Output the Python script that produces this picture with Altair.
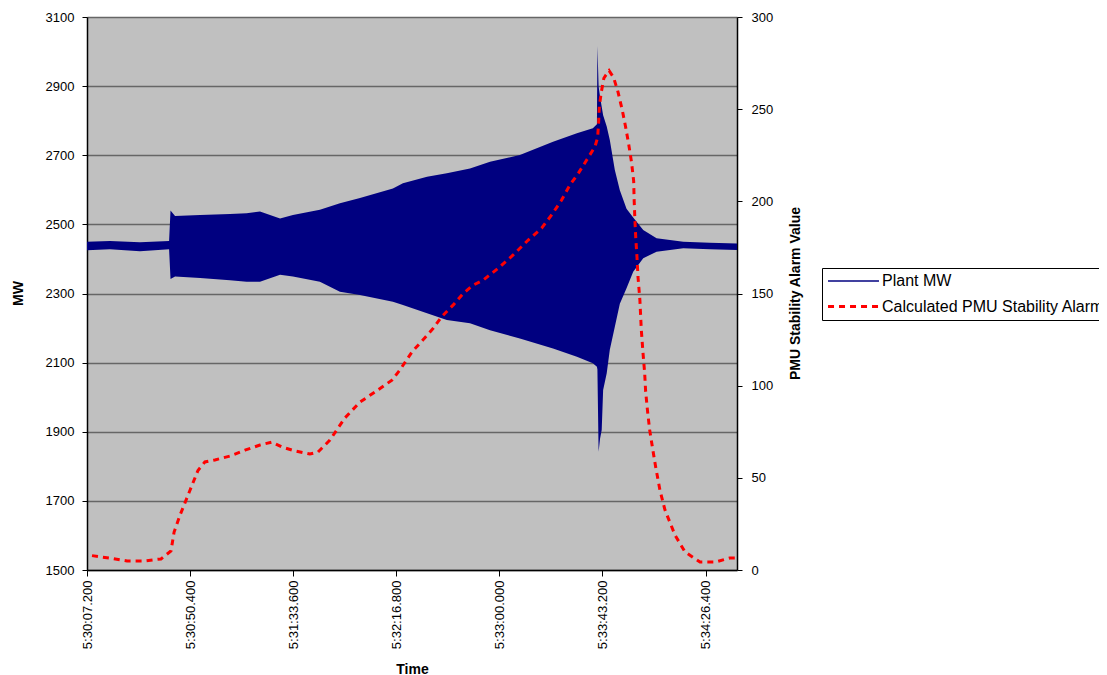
import altair as alt
import pandas as pd

# ---- axis labels ----
tick_secs = [0, 43.2, 86.4, 129.6, 172.8, 216.0, 259.2]
tick_labels = ["5:30:07.200", "5:30:50.400", "5:31:33.600", "5:32:16.800",
               "5:33:00.000", "5:33:43.200", "5:34:26.400"]
mw_ticks = [1500, 1700, 1900, 2100, 2300, 2500, 2700, 2900, 3100]
alarm_ticks = [0, 50, 100, 150, 200, 250, 300]

series_names = ["Plant MW", "Calculated PMU Stability Alarm Value"]

# ---- Plant MW (oscillation envelope, seconds after 5:30:07.2) ----
mw_t = [0.0, 9.6, 22.2, 34.4, 35.0, 36.9, 47.4, 59.9, 66.9, 72.5, 80.9, 86.3,
        97.6, 106.0, 114.4, 128.2, 132.4, 142.5, 150.8, 160.5, 168.9, 181.4,
        195.3, 205.3, 212.0, 213.7, 213.9, 214.4, 215.0, 215.7, 216.3, 217.8,
        219.1, 221.2, 223.3, 226.1, 228.9, 233.1, 238.7, 249.9, 261.0, 272.4]
mw_hi = [2450, 2452, 2448, 2452, 2540, 2524, 2527, 2530, 2532, 2537, 2517, 2527,
         2542, 2561, 2576, 2604, 2619, 2638, 2648, 2662, 2681, 2701,
         2739, 2764, 2778, 2790, 3016, 2900, 2869, 2840, 2816, 2783,
         2744, 2657, 2599, 2545, 2520, 2484, 2460, 2450, 2447, 2445]
mw_lo = [2425, 2428, 2422, 2428, 2342, 2349, 2345, 2338, 2334, 2334, 2354, 2349,
         2334, 2305, 2296, 2276, 2267, 2243, 2223, 2214, 2194, 2170,
         2141, 2117, 2098, 2088, 2080, 1842, 1880, 1905, 2021, 2069,
         2137, 2204, 2270, 2315, 2363, 2402, 2421, 2431, 2428, 2426]

# ---- Calculated PMU Stability Alarm Value ----
al_t = [2.1, 9.2, 16.8, 23.9, 31.0, 35.2, 36.5, 39.0, 43.2, 46.5, 49.4, 53.6,
        59.9, 66.2, 72.5, 77.5, 81.7, 87.2, 93.4, 96.8, 101.8, 108.1, 114.4,
        120.7, 127.8, 131.1, 136.2, 141.6, 145.1, 148.6, 153.5, 157.7, 161.9,
        166.1, 172.3, 178.6, 184.9, 190.5, 194.7, 198.9, 202.4, 205.9, 209.4,
        212.9, 214.0, 214.4, 214.7, 215.5, 216.6, 217.5, 218.8, 220.7, 222.5,
        224.3, 225.7, 227.0, 228.2, 229.1, 229.3, 229.6, 230.0, 230.5, 230.9,
        231.7, 232.3, 233.0, 233.7, 234.1, 234.9, 235.8, 237.0, 238.3, 240.1,
        242.2, 246.4, 250.6, 256.9, 263.2, 269.4, 272.4]
al_v = [7.8, 6.5, 4.9, 4.9, 6.0, 10.3, 20.6, 29.8, 43.4, 54.0, 58.6, 59.7,
        61.8, 65.0, 67.8, 69.4, 66.7, 64.6, 62.9, 64.0, 70.5, 82.5, 91.1,
        96.6, 103.0, 108.5, 118.3, 126.0, 131.1, 137.4, 143.8, 150.1, 154.6,
        157.3, 163.7, 170.9, 179.0, 185.4, 192.6, 200.7, 208.9, 215.2, 222.4,
        229.7, 234.7, 242.7, 251.4, 259.0, 266.8, 268.6, 270.9, 267.1, 259.5,
        249.6, 240.5, 231.1, 221.2, 211.0, 200.7, 190.3, 179.6, 169.4, 159.1,
        146.5, 130.2, 117.9, 107.0, 97.1, 86.3, 76.0, 66.2, 56.0, 43.4,
        32.6, 19.0, 9.8, 4.3, 4.3, 6.5, 6.5]

mw_df = pd.DataFrame({"t": mw_t, "hi": mw_hi, "lo": mw_lo})
al_df = pd.DataFrame({"t": al_t, "v": al_v, "series": series_names[1]})

FONT = "Liberation Sans"
label_js = "[" + ",".join("'%s'" % s for s in tick_labels) + "][round(datum.value/43.2)]"

x_axis = alt.Axis(values=tick_secs, labelExpr=label_js, labelAngle=270,
                  labelPadding=4, tickSize=6, title="Time", grid=False,
                  titleFontWeight="bold", titleFontSize=14, titleY=103,
                  titleBaseline="alphabetic",
                  domainColor="black", domainWidth=1.5, tickColor="black")
x_enc = alt.X("t:Q", scale=alt.Scale(domain=[0, 272.4], nice=False, zero=False),
              axis=x_axis)

band = alt.Chart(mw_df).mark_area(color="#000080", opacity=1).encode(
    x=x_enc,
    y=alt.Y("hi:Q", scale=alt.Scale(domain=[1500, 3100], nice=False, zero=False),
            axis=alt.Axis(values=mw_ticks, format="d", title="MW", orient="left",
                          titleX=-69, titleY=276, titleAngle=270,
                          titleAlign="center", titleBaseline="middle",
                          titleFontWeight="bold", titleFontSize=14,
                          tickSize=5, labelPadding=8,
                          grid=True, gridColor="#666666", gridWidth=1.5,
                          domainColor="black", domainWidth=1.5, tickColor="black")),
    y2="lo:Q",
)

color_scale = alt.Scale(domain=series_names, range=["#000080", "#FF0000"])
dash_scale = alt.Scale(domain=series_names, range=[[1, 0], [6, 5]])
width_scale = alt.Scale(type="ordinal", domain=series_names, range=[1.5, 3])
legend = alt.Legend(title=None, orient="none", legendX=735, legendY=251,
                    symbolType="M-3.64,0L3.64,0", symbolSize=196,
                    symbolOffset=18, labelFontSize=16,
                    labelFont=FONT, labelColor="black", labelLimit=0,
                    labelOffset=20, strokeColor="black", padding=5,
                    fillColor="white", rowPadding=9, symbolOpacity=1)

alarm = alt.Chart(al_df).mark_line(interpolate="linear").encode(
    x=x_enc,
    y=alt.Y("v:Q", scale=alt.Scale(domain=[0, 300], nice=False, zero=False),
            axis=alt.Axis(values=alarm_ticks, title="PMU Stability Alarm Value",
                          orient="right", titleX=58, titleY=276, titleAngle=270,
                          titleAlign="center", titleBaseline="middle",
                          titleFontWeight="bold", titleFontSize=14,
                          tickSize=5, labelPadding=9, grid=False,
                          domainColor="black", domainWidth=1.5, tickColor="black")),
    color=alt.Color("series:N", scale=color_scale, legend=legend),
    strokeDash=alt.StrokeDash("series:N", scale=dash_scale, legend=legend),
    strokeWidth=alt.StrokeWidth("series:N", scale=width_scale, legend=legend),
)

chart = alt.layer(band, alarm).resolve_scale(y="independent").properties(
    width=650, height=553,
    autosize=alt.AutoSizeParams(type="none"),
    padding={"left": 79, "top": 9, "right": 362, "bottom": 106},
    background="white",
).configure_view(fill="#C0C0C0", stroke=None).configure_axis(
    labelFont=FONT, titleFont=FONT, labelFontSize=13, labelColor="black",
    titleColor="black",
).configure_legend(labelFont=FONT)

chart.save("out.html", embed_options={"renderer": "svg", "actions": False})
